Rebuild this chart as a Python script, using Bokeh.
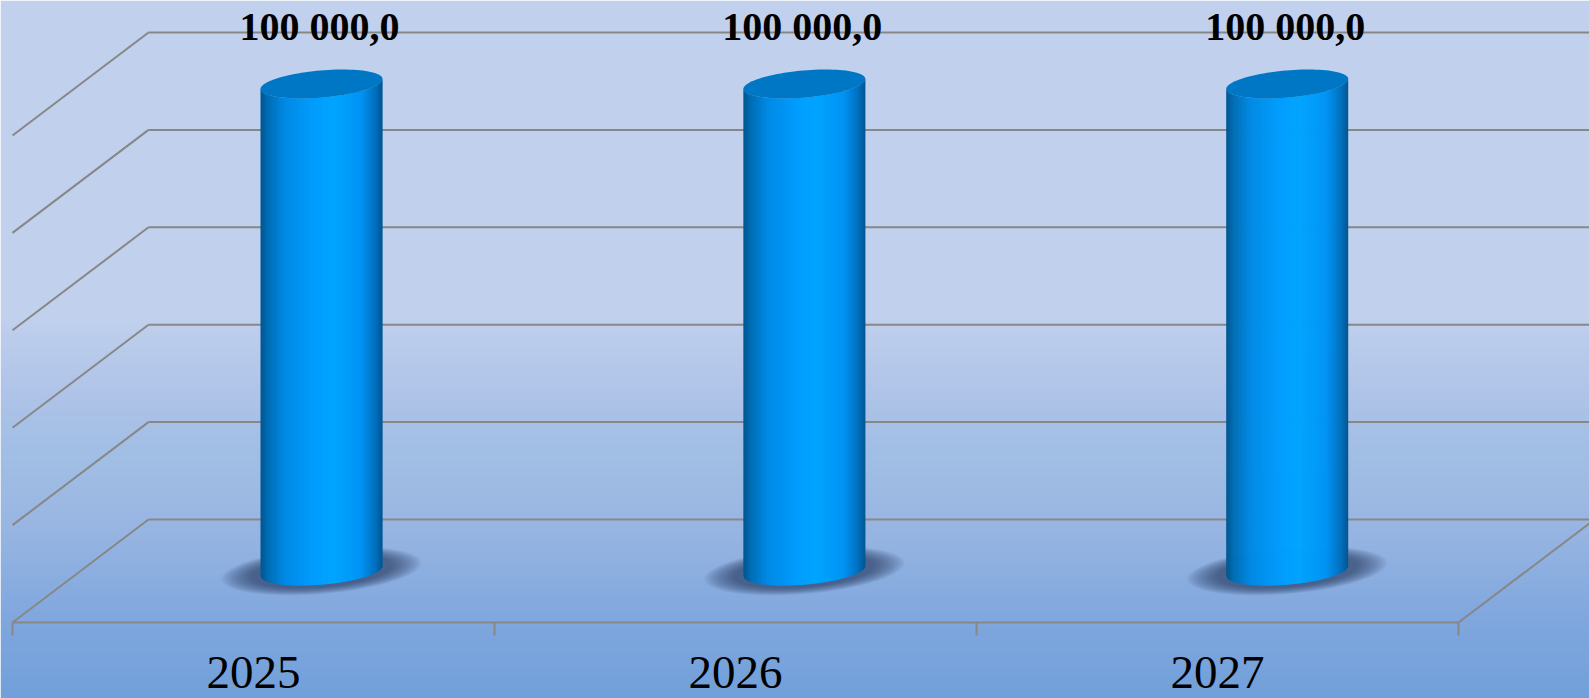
import numpy as np
from bokeh.embed import file_html
from bokeh.resources import INLINE
from bokeh.plotting import figure
from bokeh.models import FixedTicker, Range1d
from bokeh.core.properties import value

categories = ["2025", "2026", "2027"]
values = [100000, 100000, 100000]
value_labels = ["100 000,0", "100 000,0", "100 000,0"]
gridline_values = [0, 20000, 40000, 60000, 80000, 100000]
category_edges = [0, 1, 2, 3]

# layout: reference pixels per unit and the oblique floor projection
W, H = 1589, 698
PX_X, PX_Y = 482.0, 487.0 / 100000
X0_PX, Y0_PX = 12.0, 519.0          # front-left corner x, back floor y (window px)
DEPTH_X, DEPTH_Y = 136.0 / PX_X, -103.0 / PX_Y   # front face offset, in data units
BAR_STEP = 482.85 / PX_X             # cylinders sit a little wider apart than the ticks


def proj(cat, val, depth):
    """depth 1 = back wall, 0 = front edge."""
    return np.asarray(cat) + np.asarray(depth) * DEPTH_X, np.asarray(val) + (1 - np.asarray(depth)) * DEPTH_Y


x_range = Range1d((0 - X0_PX) / PX_X, (W - X0_PX) / PX_X)
y_range = Range1d((Y0_PX - H) / PX_Y, (Y0_PX - 0) / PX_Y)

p = figure(width=W, height=H, output_backend="svg", toolbar_location=None,
           x_range=x_range, y_range=y_range, y_axis_location=None,
           min_border=0, outline_line_color=None)
p.grid.visible = False

# background gradient, window px y -> colour
stops_y = [0, 320, 400, 430, 460, 520, 620, 698]
stops_c = np.array([[193, 209, 238], [192, 208, 237], [174, 195, 232], [166, 192, 230],
                    [161, 190, 229], [154, 183, 227], [128, 167, 222], [114, 160, 218]], float)
rows = np.arange(H, 0, -1) - 0.5
img = np.zeros((H, 1, 4), dtype=np.uint8)
for c in range(3):
    img[:, 0, c] = np.interp(rows, stops_y, stops_c[:, c])
img[:, 0, 3] = 255
rgba = img.view(dtype=np.uint32).reshape(H, 1)
p.image_rgba(image=[rgba], x=x_range.start, y=y_range.start,
             dw=x_range.end - x_range.start, dh=y_range.end - y_range.start)

GRID = "#878787"
LW = 2
# back wall gridlines and left side wall
bx0, by = proj([0] * 6, gridline_values, [1] * 6)
bx1, _ = proj([3] * 6, gridline_values, [1] * 6)
fx0, fy = proj([0] * 6, gridline_values, [0] * 6)
p.segment(bx0, by, bx1, by, line_color=GRID, line_width=LW)
p.segment(fx0, fy, bx0, by, line_color=GRID, line_width=LW)
# right floor edge
rx0, ry0 = proj(3, 0, 0)
rx1, ry1 = proj(3, 0, 1)
p.line([rx0, rx1], [ry0, ry1], line_color=GRID, line_width=LW)

# axis on the front floor edge
ax = p.xaxis[0]
ax.fixed_location = float(proj(0, 0, 0)[1])
ax.bounds = (0, 3)
ax.ticker = FixedTicker(ticks=[i + 0.5 for i in range(len(categories))], minor_ticks=category_edges)
ax.major_label_overrides = {i + 0.5: c for i, c in enumerate(categories)}
ax.axis_line_color = GRID
ax.axis_line_width = LW
ax.major_tick_line_color = None
ax.minor_tick_line_color = GRID
ax.minor_tick_line_width = LW
ax.minor_tick_out = 13
ax.minor_tick_in = 0
ax.major_tick_out = 13
ax.major_tick_in = 0
ax.major_label_standoff = 21
ax.major_label_text_font = "Liberation Serif"
ax.major_label_text_font_size = "47px"
ax.major_label_text_color = "#000000"

# cylinders
R_X = 61.0 / PX_X          # half width
R_B = 13.6 / PX_Y          # ellipse minor half height
R_C = 5.0 / PX_Y           # tilt of the ellipse
DEPTH_MID = 0.5

grad_pos = [0.0, 0.06, 0.2, 0.45, 0.6, 0.82, 0.94, 1.0]
grad_col = np.array([[0, 85, 145], [0, 110, 180], [0, 138, 230], [0, 158, 255], [0, 165, 255],
                     [0, 148, 245], [0, 112, 190], [0, 85, 145]], float)
N = 122
u_edges = np.linspace(-1, 1, N + 1)


def ellipse_lower(u):
    return -R_B * np.sqrt(np.clip(1 - u * u, 0, 1)) + R_C * u


for i, v in enumerate(values):
    cx, base = proj(i * BAR_STEP + 0.5, 0, DEPTH_MID)
    _, top = proj(i * BAR_STEP + 0.5, v, DEPTH_MID)

    # floor shadow: nested soft ellipses
    t = np.linspace(0, 2 * np.pi, 80)
    for s in np.linspace(1.0, 0.7, 16):
        sx = cx + s * (100.0 / PX_X) * np.cos(t)
        sy = base + s * (23.0 / PX_Y) * np.sin(t) + s * (8.0 / PX_Y) * np.cos(t)
        p.patch(sx, sy, fill_color="#1e3558", fill_alpha=0.055, line_color=None)

    # side as vertical strips
    xs, ys, cols = [], [], []
    for a, b in zip(u_edges[:-1], u_edges[1:]):
        b2 = min(b + 0.012, 1)
        xs.append(cx + R_X * np.array([a, b2, b2, a]))
        ys.append(np.array([base + ellipse_lower(a), base + ellipse_lower(b2),
                            top + ellipse_lower(b2), top + ellipse_lower(a)]))
        f = ((a + b) / 2 + 1) / 2
        rgb = [int(np.interp(f, grad_pos, grad_col[:, k])) for k in range(3)]
        cols.append("#%02x%02x%02x" % tuple(rgb))
    p.patches(xs, ys, fill_color=cols, line_color=None)

    # top cap
    t = np.linspace(0, 2 * np.pi, 100)
    p.patch(cx + R_X * np.cos(t), top + R_B * np.sin(t) + R_C * np.cos(t),
            fill_color="#0077c4", line_color=None)

# value labels
lab_x, lab_y = proj([i * BAR_STEP + 0.5 - 2.0 / PX_X for i in range(3)], values, [DEPTH_MID] * 3)
p.text(lab_x, lab_y + 58.0 / PX_Y, text=value_labels, text_align="center", text_baseline="alphabetic",
       text_font=value("Liberation Serif"), text_font_style="bold", text_font_size="40px", text_color="#000000")

open("out.html", "w").write(file_html(p, INLINE))
